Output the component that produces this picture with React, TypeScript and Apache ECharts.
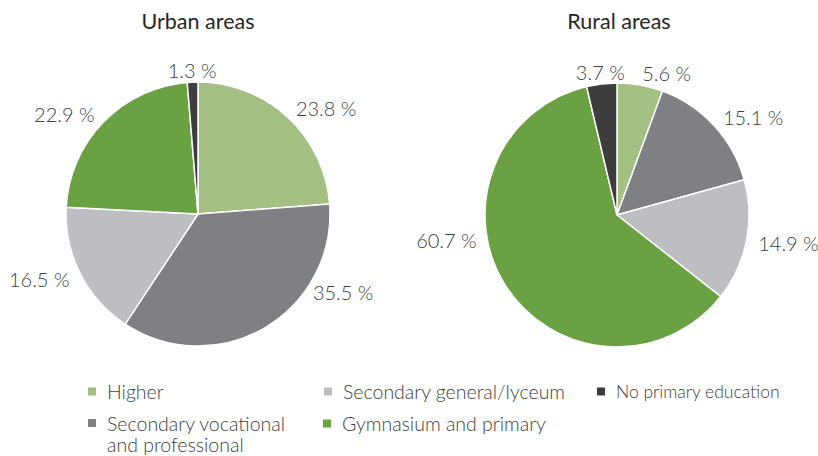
import React, { useEffect, useRef } from "react";
import * as echarts from "echarts";

const categories = [
  "Higher",
  "Secondary vocational and professional",
  "Secondary general/lyceum",
  "Gymnasium and primary",
  "No primary education",
];
const urbanValues = [23.8, 35.5, 16.5, 22.9, 1.3];
const ruralValues = [5.6, 15.1, 14.9, 60.7, 3.7];
const titles = ["Urban areas", "Rural areas"];
const colors = ["#a3bf81", "#7f8084", "#bdbec2", "#6aa142", "#3d3d3d"];

const FONT = "Lato, 'Noto Sans', sans-serif";

function makePie(values: number[], center: [number, number], bigShift: [number, number]) {
  const maxIdx = values.indexOf(Math.max(...values));
  return {
    type: "pie",
    center,
    radius: 132,
    startAngle: 90,
    clockwise: true,
    avoidLabelOverlap: false,
    silent: true,
    itemStyle: { borderColor: "#ffffff", borderWidth: 1.5 },
    label: {
      show: true,
      position: "outside",
      formatter: (p: any) => `${p.value.toFixed(1)} %`,
      fontFamily: FONT,
      fontWeight: 300,
      fontSize: 20,
      color: "#404040",
      distanceToLabelLine: 0,
    },
    labelLine: { show: false, length: 12, length2: 0 },
    labelLayout: (p: any) => {
      if (p.dataIndex === maxIdx) return { dx: bigShift[0], dy: bigShift[1] };
      if (values[p.dataIndex] < 4.5) return { align: "center" };
      return {};
    },
    data: categories.map((name, i) => ({
      name,
      value: values[i],
      itemStyle: { color: colors[i] },
    })),
  };
}

function legendItem(name: string, left: number, top: number, size: number) {
  return {
    show: true,
    orient: "vertical",
    left,
    top,
    padding: 0,
    itemWidth: 10,
    itemHeight: 10,
    icon: "rect",
    selectedMode: false,
    data: [name],
    textStyle: {
      fontFamily: FONT,
      fontWeight: 300,
      fontSize: size,
      color: "#404040",
      lineHeight: 21,
      padding: [0, 0, 0, 5],
    },
    formatter: (n: string) =>
      n === "Secondary vocational and professional"
        ? " \nSecondary vocational\nand professional"
        : n,
  };
}

export default function App() {
  const ref = useRef<HTMLDivElement>(null);
  useEffect(() => {
    if (!ref.current) return;
    const chart = echarts.init(ref.current, undefined, { renderer: "svg" });
    chart.setOption({
      animation: false,
      backgroundColor: "#ffffff",
      title: [
        {
          text: titles[0],
          left: 198,
          top: 10,
          padding: 0,
          textAlign: "center",
          textStyle: { fontFamily: FONT, fontWeight: "normal", fontSize: 21.5, color: "#262626" },
        },
        {
          text: titles[1],
          left: 619,
          top: 10,
          padding: 0,
          textAlign: "center",
          textStyle: { fontFamily: FONT, fontWeight: "normal", fontSize: 21.5, color: "#262626" },
        },
      ],
      legend: [
        legendItem(categories[0], 86, 381, 19.5),
        legendItem(categories[1], 86, 391.5, 19.5),
        legendItem(categories[2], 322, 381, 19.5),
        legendItem(categories[3], 321, 413, 19.5),
        legendItem(categories[4], 595, 381, 17.5),
      ],
      series: [
        makePie(urbanValues, [198, 214], [42, -46]),
        makePie(ruralValues, [617, 215], [-19, -53]),
      ],
    });
    return () => chart.dispose();
  }, []);
  return (
    <div
      ref={ref}
      style={{ position: "absolute", left: 0, top: 0, width: 818, height: 456 }}
    />
  );
}
